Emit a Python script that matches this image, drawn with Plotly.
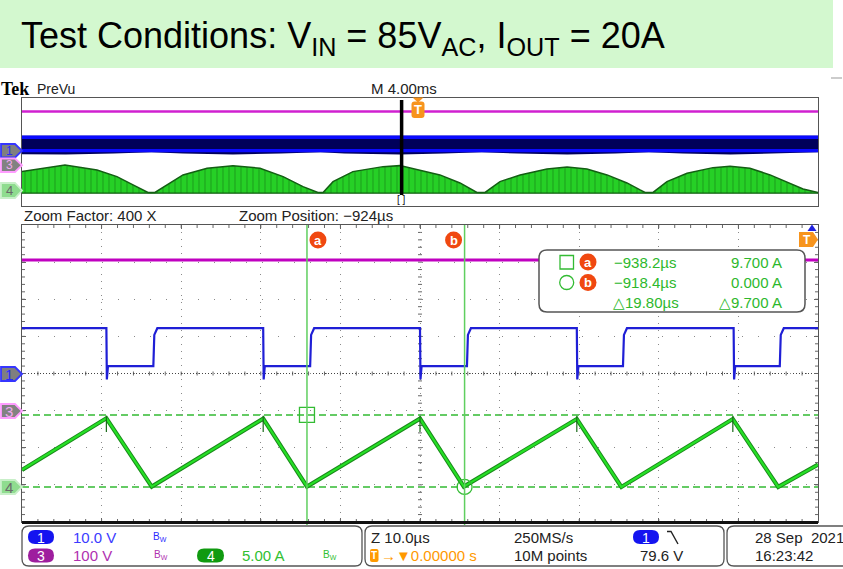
import plotly.graph_objects as go

W, H = 843, 569
FONT = "Liberation Sans, Arial, sans-serif"


def px(x):
    return x / W


def py(y):
    return 1 - y / H


# ---------------- data ----------------
# zoom window (time in microseconds)
zoom_range_us = [-974.0, -874.0]
zoom_div_us = 10.0

ch1_fall_us = [-963.4, -943.7, -924.0, -904.3, -884.6]
ch1_rise_us = [-957.5, -937.8, -918.1, -898.5, -878.8]
ch1_high_v = 12.2
ch1_low_v = 2.0
ch1_undershoot_v = -1.6
ch1_rise_step_v = 10.4

ch3_t_us = [-974.0, -874.0]
ch3_v = [406.0, 406.0]

ch4_t_us = [-974.0, -963.4, -957.7, -943.7, -938.2, -924.0, -918.5, -904.3, -898.7, -884.7, -879.0, -874.0]
ch4_i_a = [2.3, 9.25, 0.05, 9.2, 0.05, 9.2, 0.05, 9.15, 0.0, 9.15, 0.0, 3.0]
ch4_spike_t_us = [-963.4, -943.7, -924.0, -904.3, -884.7]
ch4_spike_top_a = 9.6
ch4_spike_bottom_a = 7.4

cursor_a_t_us, cursor_a_i_a = -938.2, 9.7
cursor_b_t_us, cursor_b_i_a = -918.4, 0.0

# channel settings: units per division, ground offset (divisions from centre)
ch1_scale, ch1_off = 10.0, 0.0
ch3_scale, ch3_off = 100.0, -1.0
ch4_scale, ch4_off = 5.0, -3.056

# PreVu record (time in milliseconds)
pv_range_ms = [-20.0, 20.0]
zoom_pos_ms = -0.924
pv_ch4_t_ms = [-20.0, -17.84, -16.23, -15.23, -14.42, -13.92, -13.67, -13.32, -12.71, -11.91,
               -10.70, -9.40, -8.04, -6.88, -5.88, -5.38, -5.13, -4.87, -4.37, -3.37,
               -1.86, -1.01, 0.0, 1.0, 2.01, 2.66, 2.86, 3.27, 4.02, 5.03,
               6.38, 7.39, 8.39, 9.40, 10.40, 11.06, 11.31, 11.71, 12.41, 13.42,
               14.72, 15.58, 16.58, 17.59, 18.59, 19.25, 20.0]
pv_ch4_i_a = [7.98, 10.45, 8.6, 6.13, 3.07, 1.22, 0.3, 0.3, 3.07, 6.76,
              9.23, 10.19, 9.23, 6.13, 2.44, 0.85, 0.3, 0.3, 4.28, 7.98,
              9.82, 10.19, 8.6, 6.76, 3.80, 1.22, 0.3, 0.3, 4.28, 6.76,
              8.97, 9.71, 8.97, 6.76, 3.80, 1.22, 0.3, 0.3, 4.28, 7.39,
              9.45, 9.97, 9.23, 6.76, 3.80, 1.59, 0.3]
pv_ch1_t_ms = [-20.0, 20.0]
pv_ch1_top_v = [11.9, 11.9]
pv_ch1_upper_strip_v = [10.7, 10.7]
pv_ch1_lower_strip_v = [0.9, 0.9]
pv_ch1_lo_t_ms = [-20.0, -17.8, -15.4, -13.5, -11.9, -9.4, -7.0, -5.0, -3.8, -1.0,
                  1.2, 3.1, 4.9, 7.4, 9.8, 11.5, 13.2, 15.6, 18.0, 20.0]
pv_ch1_lo_v = [-1.8, -2.0, -1.2, -0.3, -1.2, -2.0, -1.2, -0.3, -1.2, -2.0,
               -1.2, -0.3, -1.2, -2.0, -1.2, -0.3, -1.2, -2.0, -1.2, -0.3]
pv_ch3_t_ms = [-20.0, 20.0]
pv_ch3_v = [398.0, 398.0]


def to_div(vals, scale, off):
    """Scope vertical system: value -> screen divisions (centre = 0)."""
    return [None if v is None else v / scale + off for v in vals]


# ---------------- figure ----------------
fig = go.Figure()

# main zoom traces
t1, v1 = [zoom_range_us[0]], [ch1_high_v]
for f, r in zip(ch1_fall_us, ch1_rise_us):
    t1 += [f, f + 0.06, f + 0.2, r, r + 0.12, r + 0.5]
    v1 += [ch1_high_v, ch1_undershoot_v, ch1_low_v, ch1_low_v, ch1_rise_step_v, ch1_high_v]
t1.append(zoom_range_us[1])
v1.append(ch1_high_v)

fig.add_trace(go.Scatter(x=ch3_t_us, y=to_div(ch3_v, ch3_scale, ch3_off), xaxis="x", yaxis="y",
                         mode="lines", line=dict(color="#c000c0", width=3), hoverinfo="skip"))
fig.add_trace(go.Scatter(x=t1, y=to_div(v1, ch1_scale, ch1_off), xaxis="x", yaxis="y",
                         mode="lines", line=dict(color="#1f1fd6", width=2.2), hoverinfo="skip"))
ch4_div = to_div(ch4_i_a, ch4_scale, ch4_off)
fig.add_trace(go.Scatter(x=ch4_t_us, y=ch4_div, xaxis="x", yaxis="y", mode="lines",
                         line=dict(color="#1a8a1a", width=4.2), hoverinfo="skip"))
fig.add_trace(go.Scatter(x=ch4_t_us, y=ch4_div, xaxis="x", yaxis="y", mode="lines",
                         line=dict(color="#26e026", width=2.2), hoverinfo="skip"))
sx, sy = [], []
for t in ch4_spike_t_us:
    sx += [t, t, None]
    sy += [ch4_spike_top_a, ch4_spike_bottom_a, None]
fig.add_trace(go.Scatter(x=sx, y=to_div(sy, ch4_scale, ch4_off), xaxis="x", yaxis="y",
                         mode="lines", line=dict(color="#1a6a1a", width=1.2), hoverinfo="skip"))
fig.add_trace(go.Scatter(x=[cursor_a_t_us, cursor_b_t_us],
                         y=to_div([cursor_a_i_a, cursor_b_i_a], ch4_scale, ch4_off),
                         xaxis="x", yaxis="y", mode="markers",
                         marker=dict(symbol=["square-open", "circle-open"], size=15,
                                     color="#33bb33", line=dict(width=1.3)),
                         hoverinfo="skip"))

# PreVu traces
fig.add_trace(go.Scatter(x=pv_ch3_t_ms, y=to_div(pv_ch3_v, ch3_scale, ch3_off), xaxis="x2",
                         yaxis="y2", mode="lines", line=dict(color="#d020d0", width=2.5),
                         hoverinfo="skip"))
band_x = pv_ch1_t_ms + pv_ch1_lo_t_ms[::-1]
band_y = to_div(pv_ch1_top_v + pv_ch1_lo_v[::-1], ch1_scale, ch1_off)
fig.add_trace(go.Scatter(x=band_x, y=band_y, xaxis="x2", yaxis="y2", mode="lines",
                         fill="toself", fillcolor="#00005a", line=dict(width=0),
                         hoverinfo="skip"))
fig.add_trace(go.Scatter(x=pv_ch1_t_ms, y=to_div(pv_ch1_upper_strip_v, ch1_scale, ch1_off),
                         xaxis="x2", yaxis="y2", mode="lines",
                         line=dict(color="#0a0aff", width=3.5), hoverinfo="skip"))
fig.add_trace(go.Scatter(x=pv_ch1_t_ms, y=to_div(pv_ch1_lower_strip_v, ch1_scale, ch1_off),
                         xaxis="x2", yaxis="y2", mode="lines",
                         line=dict(color="#0a0aff", width=3.2), hoverinfo="skip"))
pv4 = to_div(pv_ch4_i_a, ch4_scale, ch4_off)
pv4_base = to_div([0.0 for _ in pv_ch4_t_ms], ch4_scale, ch4_off)
fig.add_trace(go.Scatter(x=pv_ch4_t_ms, y=pv4_base, xaxis="x2", yaxis="y2", mode="lines",
                         line=dict(color="#135f13", width=1.2), hoverinfo="skip"))
fig.add_trace(go.Scatter(x=pv_ch4_t_ms, y=pv4, xaxis="x2", yaxis="y2", mode="lines",
                         fill="tonexty", fillcolor="#22cc22",
                         fillpattern=dict(shape="|", size=6, solidity=0.2, fgcolor="#137a13",
                                          bgcolor="#26d026"),
                         line=dict(color="#135f13", width=1.5), hoverinfo="skip"))

# ---------------- axes ----------------
main_dom = [py(522), py(225)]
pv_dom = [py(206), py(97.7)]
xdom = [px(22), px(818)]

layout = dict(
    width=W, height=H, margin=dict(l=0, r=0, t=0, b=0, pad=0),
    paper_bgcolor="white", plot_bgcolor="rgba(0,0,0,0)", showlegend=False,
    font=dict(family=FONT, color="#222"),
    xaxis=dict(domain=xdom, range=zoom_range_us, anchor="y", tick0=zoom_range_us[0],
               dtick=zoom_div_us, showticklabels=False, ticks="inside", ticklen=4,
               tickcolor="#666", showgrid=True, gridcolor="#8a8a8a", griddash="1px,6px",
               gridwidth=1, zeroline=False, showline=True, linecolor="#555", linewidth=1,
               mirror="ticks"),
    yaxis=dict(domain=main_dom, range=[-4, 4], anchor="x", dtick=1, tick0=0,
               showticklabels=False, ticks="inside", ticklen=4, tickcolor="#666",
               showgrid=True, gridcolor="#8a8a8a", griddash="1px,15px", gridwidth=1,
               zeroline=False, showline=True, linecolor="#555", linewidth=1,
               mirror="ticks"),
    xaxis2=dict(domain=xdom, range=pv_range_ms, anchor="y2", showticklabels=False,
                ticks="", showgrid=False, zeroline=False, showline=True,
                linecolor="#555", linewidth=1, mirror=True),
    yaxis2=dict(domain=pv_dom, range=[-4, 4], anchor="x2", showticklabels=False, ticks="",
                showgrid=False, zeroline=False, showline=True, linecolor="#555",
                linewidth=1, mirror=True),
)

# ---------------- shapes ----------------
def P(x, y):
    return f"{px(x):.5f},{py(y):.5f}"


def rr_path(x0, y0, x1, y1, r):
    return (f"M {P(x0 + r, y0)} L {P(x1 - r, y0)} Q {P(x1, y0)} {P(x1, y0 + r)} "
            f"L {P(x1, y1 - r)} Q {P(x1, y1)} {P(x1 - r, y1)} L {P(x0 + r, y1)} "
            f"Q {P(x0, y1)} {P(x0, y1 - r)} L {P(x0, y0 + r)} Q {P(x0, y0)} {P(x0 + r, y0)} Z")


def pent_path(x0, y0, x1, y1, tip=7):
    yc = (y0 + y1) / 2
    return f"M {P(x0, y0)} L {P(x1 - tip, y0)} L {P(x1, yc)} L {P(x1 - tip, y1)} L {P(x0, y1)} Z"


def pshape(path, fill, line="rgba(0,0,0,0)", lw=0, layer="above"):
    return dict(type="path", xref="paper", yref="paper", path=path, fillcolor=fill,
                line=dict(color=line, width=lw), layer=layer)


shapes = []
# title background
shapes.append(dict(type="rect", xref="paper", yref="paper", x0=0, x1=px(833), y0=py(68),
                   y1=1, fillcolor="#d3f8cf", line=dict(width=0), layer="below"))
shapes.append(dict(type="line", xref="paper", yref="paper", x0=px(831), x1=px(842),
                   y0=py(78), y1=py(78), line=dict(color="#999", width=1)))
# graticule minor ticks (decoration of the zoom window, 1/5 division)
mt = []
L, R, T, B = 22, 818, 225, 522
dx = (R - L) / 50.0
dy = (B - T) / 40.0
for i in range(1, 50):
    x = L + i * dx
    mt.append(f"M {P(x, T)} L {P(x, T + 3)} M {P(x, B)} L {P(x, B - 3)} "
              f"M {P(x, (T + B) / 2 - 2)} L {P(x, (T + B) / 2 + 2)}")
for j in range(1, 40):
    y = T + j * dy
    mt.append(f"M {P(L, y)} L {P(L + 3, y)} M {P(R, y)} L {P(R - 3, y)} "
              f"M {P((L + R) / 2 - 2, y)} L {P((L + R) / 2 + 2, y)}")
shapes.append(dict(type="path", xref="paper", yref="paper", path=" ".join(mt),
                   line=dict(color="#666", width=1), layer="below"))
# ch1 reference (centre) dotted line
ch1_gnd = to_div([0.0], ch1_scale, ch1_off)[0]
shapes.append(dict(type="line", xref="paper", yref="y", x0=px(22), x1=px(818), y0=ch1_gnd,
                   y1=ch1_gnd, line=dict(color="#444", width=1, dash="1px,2px"), layer="below"))
# cursor horizontal bars
for lvl in to_div([cursor_a_i_a, cursor_b_i_a], ch4_scale, ch4_off):
    shapes.append(dict(type="line", xref="paper", yref="y", x0=px(22), x1=px(818), y0=lvl,
                       y1=lvl, line=dict(color="#33bb33", width=1.4, dash="7px,4px"),
                       layer="below"))
# cursor vertical bars
for t in [cursor_a_t_us, cursor_b_t_us]:
    shapes.append(dict(type="line", xref="x", yref="paper", x0=t, x1=t, y0=py(525),
                       y1=py(225), line=dict(color="#5fcf5f", width=1.5), layer="above"))
# cursor labels (circles)
for t, a, b in [(cursor_a_t_us, 2.5, 19.5), (cursor_b_t_us, -19.5, -2.5)]:
    shapes.append(dict(type="circle", xref="x", xsizemode="pixel", xanchor=t, x0=a, x1=b,
                       yref="paper", y0=py(248.5), y1=py(231.5), fillcolor="#f04810",
                       line=dict(width=0), layer="above"))
# main bottom thick border
shapes.append(dict(type="line", xref="paper", yref="paper", x0=px(22), x1=px(818),
                   y0=py(522.5), y1=py(522.5), line=dict(color="#111", width=3)))
# readout box
shapes.append(pshape(rr_path(539, 250, 805, 312, 8), "white", "#555", 1.5))
shapes.append(dict(type="rect", xref="paper", yref="paper", x0=px(560), x1=px(573.5),
                   y0=py(269), y1=py(255.5), line=dict(color="#33bb33", width=1.3),
                   fillcolor="rgba(0,0,0,0)"))
shapes.append(dict(type="circle", xref="paper", yref="paper", x0=px(559.7), x1=px(573.7),
                   y0=py(289.5), y1=py(275.5), line=dict(color="#33bb33", width=1.3),
                   fillcolor="rgba(0,0,0,0)"))
for yc in [262, 282.5]:
    shapes.append(dict(type="circle", xref="paper", yref="paper", x0=px(579.5), x1=px(596.5),
                       y0=py(yc + 8.5), y1=py(yc - 8.5), fillcolor="#f04810",
                       line=dict(width=0)))
# main trigger marker (top right)
shapes.append(pshape(pent_path(799, 232, 818, 247, 5), "#f7941d"))
shapes.append(pshape(f"M {P(807.5, 231)} L {P(816.5, 231)} L {P(812, 224.5)} Z", "#2020e0"))
# channel markers
markers = [
    ((1, 367, 22, 381), "#7f7f7f", "#3535ff"),
    ((1, 404, 22, 418), "#828282", "#ff9cff"),
    ((1, 480, 22, 494), "#8fdc8f", "#c8efc8"),
    ((1, 144, 22, 157.5), "#7f7f7f", "#3535ff"),
    ((1, 158.5, 22, 172), "#828282", "#ff9cff"),
    ((1, 183, 22, 198), "#8fdc8f", "#c8efc8"),
]
for (x0, y0, x1, y1), fill, border in markers:
    shapes.append(pshape(pent_path(x0, y0, x1, y1), fill, border, 1.8))
# PreVu zoom position bar and trigger marker
shapes.append(dict(type="line", xref="x2", yref="paper", x0=zoom_pos_ms, x1=zoom_pos_ms,
                   y0=py(195), y1=py(100), line=dict(color="black", width=3.5)))
shapes.append(pshape(f"M {P(412.5, 97.5)} L {P(423.5, 97.5)} L {P(418, 102.5)} Z", "#f7941d"))
shapes.append(pshape(rr_path(411.5, 101.5, 424.5, 118, 3), "#f7941d"))
# bottom info boxes
shapes.append(pshape(rr_path(22, 526, 362, 566, 7), "rgba(0,0,0,0)", "#555", 1.3))
shapes.append(pshape(rr_path(365, 526, 724, 566, 7), "rgba(0,0,0,0)", "#555", 1.3))
shapes.append(pshape(rr_path(727, 526, 852, 566, 7), "rgba(0,0,0,0)", "#555", 1.3))
pills = [((28, 530, 54, 544), "#1414f0"), ((28, 548.5, 54, 562.5), "#9e1e9e"),
         ((197, 548.5, 224, 562.5), "#109a10"), ((633, 530, 659, 544), "#1414f0")]
for (x0, y0, x1, y1), c in pills:
    shapes.append(pshape(rr_path(x0, y0, x1, y1, 7), c))
shapes.append(pshape(rr_path(370, 549, 378.5, 562, 2), "#ff9a00"))
shapes.append(dict(type="path", xref="paper", yref="paper",
                   path=f"M {P(667, 531.5)} L {P(671, 531.5)} L {P(678, 544)}",
                   line=dict(color="#222", width=1.4)))
layout["shapes"] = shapes

# ---------------- annotations ----------------
ann = []


def txt(x, y, s, size=15, color="#222", anchor="left", family=FONT, **kw):
    ann.append(dict(xref="paper", yref="paper", x=px(x), y=py(y), text=s, showarrow=False,
                    xanchor=anchor, yanchor="middle", font=dict(size=size, color=color,
                                                                family=family), **kw))


txt(19, 38, "Test Conditions: V<sub>IN</sub> = 85V<sub>AC</sub>, I<sub>OUT</sub> = 20A", 36, "#000")
txt(-1, 88.5, "<b>Tek</b>", 18, "#000", family="Liberation Serif, serif")
txt(35, 88.5, "PreVu", 14, "#222")
txt(369, 88.5, "M 4.00ms", 15, "#222")
txt(22, 215, "Zoom Factor: 400 X", 15, "#222")
txt(237, 215, "Zoom Position: \u2212924\u00b5s", 15, "#222")
ann.append(dict(xref="x2", yref="paper", x=zoom_pos_ms, y=py(199.5), text="[ ]",
                showarrow=False, xanchor="center", yanchor="middle",
                font=dict(size=10, color="#111", family=FONT)))
txt(418, 110, "<b>T</b>", 13, "white", "center")
txt(806.5, 239.8, "<b>T</b>", 12, "white", "center")
# cursor label letters
for t, sh, s in [(cursor_a_t_us, 11, "a"), (cursor_b_t_us, -11, "b")]:
    ann.append(dict(xref="x", yref="paper", x=t, xshift=sh, y=py(240), text=f"<b>{s}</b>",
                    showarrow=False, xanchor="center", yanchor="middle",
                    font=dict(size=13, color="white", family=FONT)))
# channel marker digits
for (yc, s, c, sz) in [(374, "1", "#2a2aff", 15), (411, "3", "#f0a8f0", 15),
                       (487, "4", "#6a6a6a", 15), (150.8, "1", "#2a2aff", 12),
                       (165.3, "3", "#f0a8f0", 12), (190.5, "4", "#6a6a6a", 13)]:
    txt(9, yc, s, sz, c, "center")
# readout
G = "#2db82d"
txt(588, 262.3, "<b>a</b>", 13, "white", "center")
txt(588, 282.8, "<b>b</b>", 13, "white", "center")
txt(612, 262, f"\u2212{abs(cursor_a_t_us):.1f}\u00b5s", 15, G)
txt(612, 282.5, f"\u2212{abs(cursor_b_t_us):.1f}\u00b5s", 15, G)
txt(611, 302.5, f"\u25b3{cursor_b_t_us - cursor_a_t_us:.2f}\u00b5s", 15, G)
txt(784, 262, f"{cursor_a_i_a:.3f} A", 15, G, "right")
txt(784, 282.5, f"{cursor_b_i_a:.3f} A", 15, G, "right")
txt(784, 302.5, f"\u25b3{abs(cursor_a_i_a - cursor_b_i_a):.3f} A", 15, G, "right")
# bottom bar
r1, r2 = 537.5, 555.5
txt(41, r1, "1", 14, "white", "center")
txt(41, r2, "3", 14, "white", "center")
txt(210.5, r2, "4", 14, "white", "center")
txt(646, r1, "1", 14, "white", "center")
txt(71, r1, "10.0 V", 15, "#3b3bff")
txt(71, r2, "100 V", 15, "#b030b0")
txt(240, r2, "5.00 A", 15, "#30c030")
for (bx, by, c) in [(151, 536.5, "#2a2aff"), (152, 554.5, "#b030b0"), (321, 554.5, "#30c030")]:
    txt(bx, by, "B<sub>W</sub>", 10, c, "left")
txt(369, r1, "Z 10.0\u00b5s", 15, "#222")
txt(374.2, r2, "<b>T</b>", 10, "white", "center")
txt(379, r2, "\u2192\u25bc0.00000 s", 15, "#ff9900")
txt(512, r1, "250MS/s", 15, "#222")
txt(512, r2, "10M points", 15, "#222")
txt(638, r2, "79.6 V", 15, "#222")
txt(753, r1, "28 Sep  2021", 15, "#222")
txt(753, r2, "16:23:42", 15, "#222")
layout["annotations"] = ann

fig.update_layout(**layout)
fig.write_html("out.html")
